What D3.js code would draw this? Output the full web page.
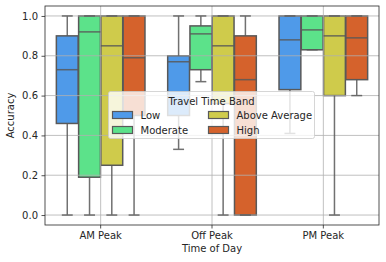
<!DOCTYPE html>
<html>
<head>
<meta charset="utf-8">
<script src="https://cdn.jsdelivr.net/npm/d3@7"></script>
<style>
  body { margin: 0; background: #fff; }
  svg { display: block; font-family: "DejaVu Sans", sans-serif; }
</style>
</head>
<body>
<svg id="chart" width="386" height="262"></svg>
<script>
let periods = ['AM Peak', 'Off Peak', 'PM Peak'];
let bands = ['Low', 'Moderate', 'Above Average', 'High'];
let bandColors = ['#4f9ae9', '#5ce28a', '#cfcb4b', '#d5622c'];
let yTicks = [0.0, 0.2, 0.4, 0.6, 0.8, 1.0];

// per band, one value per period (AM, Off, PM)
let lowWhisker = [[0.0, 0.33, 0.41], [0.0, 0.67, 0.83], [0.0, 0.0, 0.0], [0.0, 0.0, 0.6]];
let q1 = [[0.46, 0.5, 0.63], [0.19, 0.73, 0.83], [0.25, 0.56, 0.6], [0.5, 0.0, 0.68]];
let medians = [[0.73, 0.77, 0.88], [0.92, 0.91, 0.93], [0.85, 0.85, 0.9], [0.79, 0.68, 0.89]];
let q3 = [[0.9, 0.8, 1.0], [1.0, 0.95, 1.0], [1.0, 1.0, 1.0], [1.0, 0.9, 1.0]];
let highWhisker = [[1.0, 1.0, 1.0], [1.0, 1.0, 1.0], [1.0, 1.0, 1.0], [1.0, 1.0, 1.0]];

let svg = d3.select('#chart');
let plotLeft = 45, plotRight = 379, plotTop = 6, plotBottom = 225;

let x = d3.scaleBand().domain(periods).range([plotLeft, plotRight]).padding(0);
let y = d3.scaleLinear().domain([-0.05, 1.05]).range([plotBottom, plotTop]);
let hueX = d3.scaleBand().domain(bands).range([-0.4, 0.4]);

let boxes = [];
bands.forEach((band, b) => {
  periods.forEach((period, p) => {
    boxes.push({
      band: band, color: bandColors[b], period: period,
      lo: lowWhisker[b][p], q1: q1[b][p], med: medians[b][p], q3: q3[b][p], hi: highWhisker[b][p]
    });
  });
});

let unit = x.bandwidth();
let boxW = hueX.bandwidth() * unit * 0.98;
let cx = (d) => x(d.period) + unit / 2 + (hueX(d.band) + hueX.bandwidth() / 2) * unit;

// boxes (patches, below grid)
svg.append('g').selectAll('rect')
  .data(boxes).enter().append('rect')
  .attr('x', (d) => cx(d) - boxW / 2)
  .attr('y', (d) => y(d.q3))
  .attr('width', boxW)
  .attr('height', (d) => y(d.q1) - y(d.q3))
  .attr('fill', (d) => d.color)
  .attr('stroke', '#595959')
  .attr('stroke-width', 1.5);

// grid
let grid = svg.append('g').attr('stroke', '#b0b0b0').attr('stroke-width', 0.8);
grid.selectAll('.gy').data(yTicks).enter().append('line')
  .attr('x1', plotLeft).attr('x2', plotRight)
  .attr('y1', (d) => y(d)).attr('y2', (d) => y(d));
grid.selectAll('.gx').data(periods).enter().append('line')
  .attr('x1', (d) => x(d) + unit / 2).attr('x2', (d) => x(d) + unit / 2)
  .attr('y1', plotTop).attr('y2', plotBottom);

// whiskers, caps, medians
let lines = svg.append('g').attr('stroke', '#595959').attr('stroke-width', 1.5).attr('opacity', 0.85);
let box = lines.selectAll('g').data(boxes).enter().append('g');
box.filter((d) => d.lo < d.q1).append('line')
  .attr('x1', cx).attr('x2', cx)
  .attr('y1', (d) => y(d.lo)).attr('y2', (d) => y(d.q1));
box.filter((d) => d.hi > d.q3).append('line')
  .attr('x1', cx).attr('x2', cx)
  .attr('y1', (d) => y(d.q3)).attr('y2', (d) => y(d.hi));
box.append('line')
  .attr('x1', (d) => cx(d) - boxW / 4).attr('x2', (d) => cx(d) + boxW / 4)
  .attr('y1', (d) => y(d.lo)).attr('y2', (d) => y(d.lo));
box.append('line')
  .attr('x1', (d) => cx(d) - boxW / 4).attr('x2', (d) => cx(d) + boxW / 4)
  .attr('y1', (d) => y(d.hi)).attr('y2', (d) => y(d.hi));
box.append('line')
  .attr('x1', (d) => cx(d) - boxW / 2).attr('x2', (d) => cx(d) + boxW / 2)
  .attr('y1', (d) => y(d.med)).attr('y2', (d) => y(d.med));

// axes
let yAxis = svg.append('g')
  .attr('transform', 'translate(' + plotLeft + ',0)')
  .call(d3.axisLeft(y).tickValues(yTicks).tickFormat(d3.format('.1f')).tickSize(3.5).tickPadding(3.5));
let xAxis = svg.append('g')
  .attr('transform', 'translate(0,' + plotBottom + ')')
  .call(d3.axisBottom(x).tickSize(3.5).tickPadding(3.5));
[xAxis, yAxis].forEach((ax) => {
  ax.select('.domain').remove();
  ax.selectAll('text').attr('font-size', 10).attr('fill', '#262626').attr('font-family', 'DejaVu Sans');
  ax.selectAll('line').attr('stroke', '#262626').attr('stroke-width', 0.8);
});

svg.append('rect')
  .attr('x', plotLeft).attr('y', plotTop)
  .attr('width', plotRight - plotLeft).attr('height', plotBottom - plotTop)
  .attr('fill', 'none').attr('stroke', '#262626').attr('stroke-width', 0.8);

svg.append('text')
  .attr('x', (plotLeft + plotRight) / 2).attr('y', 252)
  .attr('text-anchor', 'middle').attr('font-size', 10).attr('fill', '#262626')
  .text('Time of Day');
svg.append('text')
  .attr('transform', 'translate(14,' + (plotTop + plotBottom) / 2 + ') rotate(-90)')
  .attr('text-anchor', 'middle').attr('font-size', 10).attr('fill', '#262626')
  .text('Accuracy');

// legend
let legend = svg.append('g').attr('transform', 'translate(108.5,91.5)');
legend.append('rect')
  .attr('width', 206).attr('height', 47).attr('rx', 2)
  .attr('fill', 'white').attr('fill-opacity', 0.8)
  .attr('stroke', '#cccccc').attr('stroke-width', 0.8);
legend.append('text')
  .attr('x', 103).attr('y', 13).attr('text-anchor', 'middle')
  .attr('font-size', 10).attr('fill', '#262626')
  .text('Travel Time Band');
let item = legend.selectAll('.item').data(bands).enter().append('g')
  .attr('transform', (d, i) => 'translate(' + (i < 2 ? 4 : 100) + ',' + (i % 2 === 0 ? 20 : 35) + ')');
item.append('rect')
  .attr('width', 20).attr('height', 7)
  .attr('fill', (d, i) => bandColors[i])
  .attr('stroke', '#595959').attr('stroke-width', 1.2);
item.append('text')
  .attr('x', 28).attr('y', 7.5)
  .attr('font-size', 10).attr('fill', '#262626')
  .text((d) => d);
</script>
</body>
</html>
